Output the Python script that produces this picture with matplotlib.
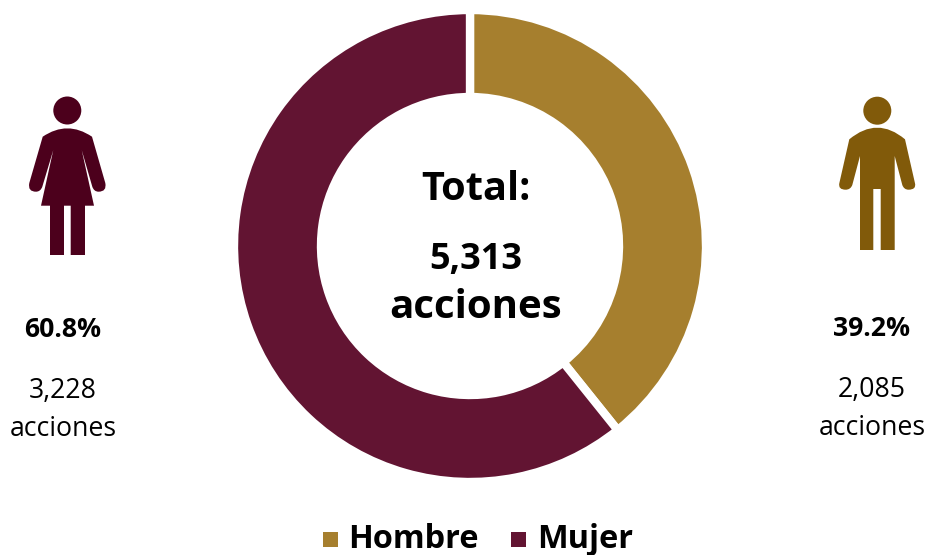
import matplotlib
matplotlib.use('Agg')
import matplotlib.pyplot as plt
from matplotlib.patches import Circle, PathPatch, Rectangle
from matplotlib.path import Path

categories = ['Hombre', 'Mujer']
values = [2085, 3228]
colors = ['#A67F2E', '#621432']
pct_labels = ['39.2%', '60.8%']
count_labels = ['2,085\nacciones', '3,228\nacciones']

W, H = 927, 555
plt.rcParams['font.family'] = ['Open Sans', 'DejaVu Sans']
fig = plt.figure(figsize=(W/100, H/100), dpi=100)
bg = fig.add_axes([0, 0, 1, 1])
bg.set_xlim(0, W); bg.set_ylim(H, 0); bg.axis('off')

cx, cy, R = 470, 246, 236
ax = fig.add_axes([(cx-R)/W, 1-(cy+R)/H, 2*R/W, 2*R/H])
ax.pie(values, colors=colors, startangle=90, counterclock=False, radius=1,
       wedgeprops=dict(width=87/236, edgecolor='white', linewidth=6))
ax.set_xlim(-1, 1); ax.set_ylim(-1, 1)

bg.set_zorder(3)
bg.patch.set_alpha(0)
kw = dict(ha='center', va='center', color='black')
bg.text(475.5, 189, 'Total:', fontsize=28.6, fontweight='bold', **kw)
bg.text(476, 260, '5,313', fontsize=26, fontweight='bold', **kw)
bg.text(476, 308, 'acciones', fontsize=29, fontweight='bold', **kw)

bg.text(63, 330, pct_labels[1], fontsize=19.2, fontweight='bold', **kw)
bg.text(63, 410, count_labels[1], fontsize=19.2, linespacing=1.52, **kw)
bg.text(872, 329, pct_labels[0], fontsize=19.2, fontweight='bold', **kw)
bg.text(872, 409, count_labels[0], fontsize=19.2, linespacing=1.52, **kw)

M, L, C = Path.MOVETO, Path.LINETO, Path.CURVE3

def body_path(seq):
    verts, codes = [], []
    for i, item in enumerate(seq):
        if len(item) == 2:
            verts.append(item)
            codes.append(M if i == 0 else L)
        else:
            verts += [item[:2], item[2:]]
            codes += [C, C]
    verts.append(seq[0][:2]); codes.append(Path.CLOSEPOLY)
    return Path(verts, codes)

female = [(42.7,136.7),(67.3,120,92,136.7),(105.3,183),(107,191.7,98.5,191.7),(94,191.7,92.3,186.7),
          (81.7,150),(94,205.7),(85,205.7),(85,255),(70.7,255),(70.7,205.7),(64,205.7),(64,255),
          (50,255),(50,205.7),(41,205.7),(53.3,150),(42.3,186.7),(40.5,191.7,36,191.7),
          (27.5,191.7,29.3,183)]
male = [(849.3,139.3),(877.3,116,905,139.3),(915,183.3),(916.5,189.7,908.5,189.7),(904,189.7,902.3,185),
        (894.7,156),(894.7,250),(880.7,250),(880.7,189),(873.3,189),(873.3,250),(860,250),(860,156),
        (852.3,185),(850.5,189.7,845.7,189.7),(838,189.7,839.3,183.3)]

bg.add_patch(Circle((67.3, 110.5), 14, color='#4C001C', lw=0))
bg.add_patch(PathPatch(body_path(female), facecolor='#4C001C', lw=0))
bg.add_patch(Circle((877.3, 110.7), 14, color='#815A0A', lw=0))
bg.add_patch(PathPatch(body_path(male), facecolor='#815A0A', lw=0))

bg.add_patch(Rectangle((323, 532), 15, 15, color=colors[0], lw=0))
bg.add_patch(Rectangle((511, 532), 15, 15, color=colors[1], lw=0))
bg.text(348.5, 539, categories[0], fontsize=23.4, fontweight='bold', ha='left', va='center')
bg.text(537.5, 539, categories[1], fontsize=23.4, fontweight='bold', ha='left', va='center')

fig.savefig('out.png', dpi=100)
